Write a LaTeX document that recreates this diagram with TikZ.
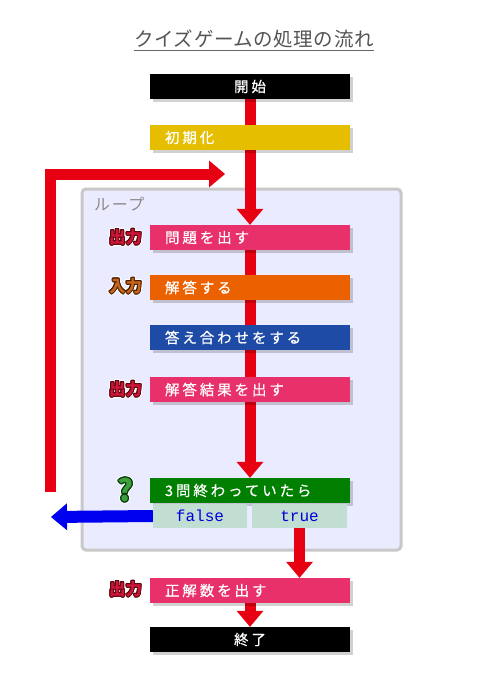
\documentclass[tikz,border=0pt]{standalone}
\usepackage{fontspec}
\usepackage{contour}
\usetikzlibrary{arrows.meta,shadows}
\newfontfamily\jp{Noto Sans CJK JP}
\newfontfamily\jpsp[LetterSpace=10]{Noto Sans CJK JP}
\newfontfamily\jptitle[LetterSpace=3]{Noto Sans CJK JP}
\newfontfamily\jpbox[LetterSpace=20,FakeBold=0.6]{Noto Sans CJK JP}
\newfontfamily\monof{Liberation Mono}
\definecolor{redc}{HTML}{E60012}
\definecolor{pinkc}{HTML}{E8306A}
\definecolor{yellowc}{HTML}{E6BE00}
\definecolor{orangec}{HTML}{EB6100}
\definecolor{bluec}{HTML}{1E4BA6}
\definecolor{greenc}{HTML}{007F00}
\definecolor{tfc}{HTML}{C2DDD2}
\definecolor{loopfill}{HTML}{EBEBFF}
\definecolor{loopdraw}{HTML}{C8C8C8}
\definecolor{arrowblue}{HTML}{0000F0}
\definecolor{monoblue}{HTML}{0000DD}
\definecolor{outred}{HTML}{D2143C}
\definecolor{outreddark}{HTML}{5A0A0A}
\definecolor{inbrown}{HTML}{C8641E}
\definecolor{inbrowndark}{HTML}{4A2000}
\definecolor{qgreen}{HTML}{3CA03C}
\definecolor{qgreendark}{HTML}{0A3A0A}
\pgfdeclarelayer{backlayer}
\pgfdeclarelayer{arrowlayer}
\pgfsetlayers{backlayer,arrowlayer,main}
\newcommand{\outlbl}[3]{\rlap{\contourlength{1.9pt}\contour{white}{\textcolor{white}{#3}}}\contourlength{0.9pt}\contour{#2}{\textcolor{#1}{#3}}}
\tikzset{
  box/.style={minimum width=200pt, minimum height=25pt, inner ysep=0pt, inner xsep=15pt,
    text=white, font=\jpbox\fontsize{14.5pt}{16pt}\selectfont,
    drop shadow={shadow xshift=3pt, shadow yshift=-3pt, opacity=0.18, fill=black}},
  lbox/.style={box, text width=170pt, align=left},
  cbox/.style={box, text width=170pt, align=center},
  tfbox/.style={fill=tfc, minimum height=24pt, inner sep=0pt, text=monoblue,
    font=\monof\fontsize{16pt}{18pt}\selectfont},
  redarrow/.style={draw=redc, line width=11pt,
    -{Triangle[length=16pt, width=27pt, line width=0pt]}},
  bluearrow/.style={draw=arrowblue, line width=12pt,
    -{Triangle[length=16pt, width=27pt, line width=0pt]}},
  sidelbl/.style={inner sep=0pt, font=\jp\bfseries\fontsize{16.5pt}{18pt}\selectfont},
}
\begin{document}
\begin{tikzpicture}[x=1pt, y=-1pt]
\useasboundingbox (0,0) rectangle (500,685);
\begin{pgfonlayer}{backlayer}
\fill[white] (0,0) rectangle (500,685);
\node[draw=loopdraw, fill=loopfill, line width=3pt, rounded corners=4pt, minimum width=319pt, minimum height=361pt, inner sep=0pt] (loop) at (241.5,369.5) {};
\end{pgfonlayer}
% title
\node[inner sep=0pt, text=black!67, font=\jptitle\fontsize{19.5pt}{22pt}\selectfont] (title) at (254,39) {クイズゲームの処理の流れ};
\draw[black!60, line width=1.2pt] ([yshift=-2pt]title.south west) -- ([yshift=-2pt]title.south east);
\node[anchor=west, inner sep=0pt, text=black!45, font=\jpsp\fontsize{16pt}{18pt}\selectfont] (looplbl) at (94,204) {ループ};
% boxes
\node[cbox, fill=black] (start) at (250,86.5) {開始};
\node[lbox, fill=yellowc] (init) at (250,137.5) {初期化};
\node[lbox, fill=pinkc] (q) at (250,237.5) {問題を出す};
\node[lbox, fill=orangec] (ans) at (250,287.5) {解答する};
\node[lbox, fill=bluec] (chk) at (250,337.5) {答え合わせをする};
\node[lbox, fill=pinkc] (res) at (250,389.5) {解答結果を出す};
\node[lbox, fill=greenc] (cond) at (250,490.5) {3問終わっていたら};
\node[tfbox, minimum width=94pt] (false) at (200,516) {false};
\node[tfbox, minimum width=95pt] (true) at (299.5,516) {true};
\node[lbox, fill=pinkc] (score) at (250,590.5) {正解数を出す};
\node[cbox, fill=black] (end) at (250,639.5) {終了};
% side labels
\node[sidelbl] (o1) at (125.5,238) {\outlbl{outred}{outreddark}{出力}};
\node[sidelbl] (i1) at (125.5,287) {\outlbl{inbrown}{inbrowndark}{入力}};
\node[sidelbl] (o2) at (125.5,390) {\outlbl{outred}{outreddark}{出力}};
\node[sidelbl, font=\jp\bfseries\fontsize{30pt}{32pt}\selectfont] (qm) at (125.5,491) {\outlbl{qgreen}{qgreendark}{?}};
\node[sidelbl] (o3) at (125.5,590) {\outlbl{outred}{outreddark}{出力}};
% connectors
\coordinate (loopstart) at (50,492);
\coordinate (loopend) at (225,174);
\coordinate (bluetip) at (51,517);
\begin{pgfonlayer}{arrowlayer}
\draw[redarrow] (start.south) -- (q.north);
\draw[redarrow] (q.south) -- (cond.north);
\draw[redarrow, line join=miter] (loopstart) |- (loopend);
\draw[bluearrow] (false.west) -- (bluetip);
\draw[redarrow] (true.south) -- (true.south |- score.north);
\draw[redarrow] (score.south) -- (end.north);
\end{pgfonlayer}
\end{tikzpicture}
\end{document}
